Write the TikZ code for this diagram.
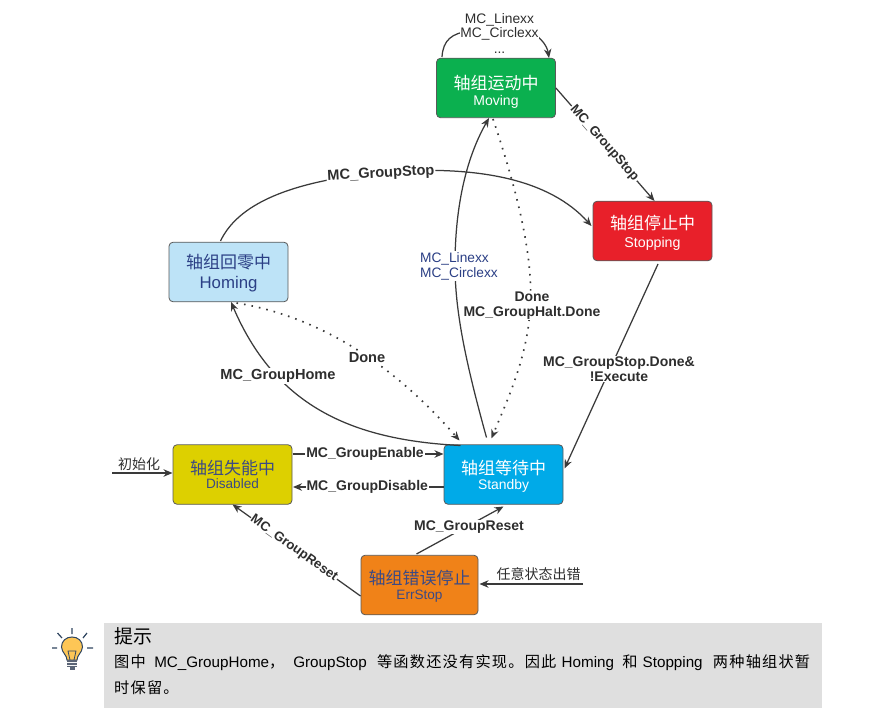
\documentclass[tikz,border=0pt]{standalone}
\usepackage{fontspec}
\setmainfont{Liberation Sans}
\newfontfamily\cjk{Noto Sans CJK SC}
\newfontfamily\cjkb[LetterSpace=8]{Noto Sans CJK SC}
\usetikzlibrary{arrows.meta}
\definecolor{linec}{HTML}{3A3A3A}
\definecolor{labc}{HTML}{2E2E2E}
\definecolor{darkblue}{HTML}{3B4A85}
\definecolor{navyl}{HTML}{2B3F85}
\definecolor{cgreen}{RGB}{11,176,79}
\definecolor{cred}{RGB}{232,32,42}
\definecolor{clblue}{RGB}{189,227,247}
\definecolor{cyellow}{RGB}{221,208,0}
\definecolor{cblue}{RGB}{0,170,232}
\definecolor{corange}{RGB}{240,130,24}
\definecolor{notebg}{RGB}{223,223,223}
\definecolor{bulbfill}{RGB}{253,198,86}
\definecolor{bulbline}{RGB}{47,69,96}
\definecolor{bulbbase}{RGB}{90,100,118}
% cjk text, latin text, latin size, line gap, strut height
\newcommand{\stext}[5]{\rule{0pt}{#5pt}{\cjk\fontsize{17}{19}\selectfont #1}\\[#4pt]{\fontsize{#3}{15}\selectfont #2}}
\tikzset{
  x=1pt,y=-1pt,
  state/.style={draw=#1!70!black,rounded corners=4pt,line width=0.8pt,minimum width=119pt,minimum height=59.5pt,inner sep=0pt,align=center},
  conn/.style={draw=linec,line width=1.25pt,-{Stealth[length=9pt,width=7.5pt]}},
  dots/.style={conn,line width=1.7pt,dash pattern=on 1.6pt off 6pt},
  lab/.style={fill=white,inner sep=1pt,font=\fontsize{14}{15}\selectfont\bfseries,text=labc,align=center},
  labw/.style={lab,font=\fontsize{14.6}{15}\selectfont\bfseries},
  labn/.style={lab,font=\fontsize{13.2}{15}\selectfont\bfseries},
  small/.style={inner sep=0pt,font=\cjk\fontsize{14}{15}\selectfont,text=labc},
}
\begin{document}
\begin{tikzpicture}
\useasboundingbox (0,0) rectangle (872,719);
% states
\node[state=gray,fill=cgreen,text=white] (moving) at (496,88) {\stext{轴组运动中}{Moving}{14}{4}{22}};
\node[state=gray,fill=cred,text=white] (stopping) at (652.5,231) {\stext{轴组停止中}{Stopping}{14.2}{6}{18}};
\node[state=gray,fill=clblue,text=navyl] (homing) at (228.5,272) {\stext{轴组回零中}{Homing}{16.8}{5}{17}};
\node[state=gray,fill=cyellow,text=darkblue] (disabled) at (232.5,474.5) {\stext{轴组失能中}{Disabled}{13.6}{2}{15}};
\node[state=gray,fill=cblue,text=white] (standby) at (503.5,474.5) {\stext{轴组等待中}{Standby}{13.9}{3}{18}};
\node[state=gray,minimum width=117pt,fill=corange,text=darkblue] (errstop) at (419.5,585) {\stext{轴组错误停止}{ErrStop}{13.6}{3}{17}};
% free ends
\coordinate (initS) at (112,473);
\coordinate (errS) at (583,584);
% self loop on Moving
\draw[conn] ([shift={(-54,-31)}]moving.center) .. controls (443,40) and (452,33) .. (470,31) -- (525,31) .. controls (538,33) and (547,45) .. ([shift={(53,-30)}]moving.center);
\node[lab,font=\fontsize{13.8}{17}\selectfont,inner sep=0pt] (loopl) at (499.5,34) {MC\_Linexx\\[-3pt]MC\_Circlexx\\[-1pt]...};
% Moving -> Stopping
\draw[conn] (moving.east) -- ([shift={(2,-30)}]stopping.center) node[labn,pos=.49,sloped] (l1) {MC\_GroupStop};
% Homing -> Stopping
\draw[conn] ([shift={(-8,-31)}]homing.center) .. controls (240,200) and (300,180) .. (385,172) .. controls (480,165) and (550,180) .. ([shift={(-61,-5)}]stopping.center);
\node[labw,rotate=3] (l2) at (381,174) {MC\_GroupStop};
% Standby -> Moving
\draw[conn] ([shift={(-17,-37)}]standby.center) .. controls (465,360) and (455,310) .. (455,265) .. controls (455,210) and (465,160) .. ([shift={(-7,30)}]moving.center);
% Moving -> Standby dotted
\draw[dots] ([shift={(-3,31)}]moving.center) .. controls (510,170) and (535,250) .. (530,310) .. controls (527,360) and (505,405) .. ([shift={(-12,-36)}]standby.center);
\node[lab,text=navyl,font=\fontsize{13.7}{15}\selectfont,align=left,inner sep=1pt] (l3) at (459,266) {MC\_Linexx\\MC\_Circlexx};
\node[lab] (l4) at (532,305.5) {Done\\MC\_GroupHalt.Done};
% Standby -> Homing
\draw[conn] ([shift={(-43,-29)}]standby.center) .. controls (350,440) and (275,405) .. ([shift={(2.5,30)}]homing.center);
\node[labw] (l5) at (278,376) {MC\_GroupHome};
% Homing -> Standby dotted
\draw[dots] ([shift={(8,31)}]homing.center) .. controls (310,315) and (385,355) .. ([shift={(-44,-34)}]standby.center);
\node[labw] (l6) at (367,358) {Done};
% Disabled <-> Standby
\draw[conn] ([shift={(60,-20.5)}]disabled.center) -- ([shift={(-60,-20.5)}]standby.center) node[lab,midway,xshift=-3pt] (l7) {MC\_GroupEnable};
\draw[conn] ([shift={(-60,12.5)}]standby.center) -- ([shift={(60.5,12.5)}]disabled.center) node[lab,midway,xshift=-1pt] (l8) {MC\_GroupDisable};
% initial
\draw[conn] (initS) -- ([shift={(-60,-1.5)}]disabled.center);
\node[small] (l9) at (139,464) {初始化};
% ErrStop -> Standby
\draw[conn] ([shift={(-3,-31)}]errstop.center) -- ([shift={(0,32)}]standby.center);
\node[lab] (l10) at (469,527) {MC\_GroupReset};
% ErrStop -> Disabled
\draw[conn] ([shift={(-59,11)}]errstop.center) -- ([shift={(0,30)}]disabled.center) node[labn,pos=.52,sloped] (l11) {MC\_GroupReset};
% error input
\draw[conn] (errS) -- ([shift={(60,-1)}]errstop.center);
\node[small] (l12) at (538.5,574) {任意状态出错};
% Stopping -> Standby
\draw[conn] ([shift={(5.5,33)}]stopping.center) -- ([shift={(61,-6)}]standby.center);
\node[lab] (l13) at (619,369) {MC\_GroupStop.Done\&\\!Execute};
% note box
\node[fill=notebg,minimum width=718pt,minimum height=85pt,inner sep=0pt,anchor=north west] (note) at (104,623) {};
\node[anchor=west,inner sep=0pt,font=\cjk\fontsize{19}{20}\selectfont,text=black] (notet) at (114,636) {提示};
\node[anchor=north west,inner sep=0pt,align=left,text=black,font=\fontsize{15.2}{26}\selectfont] (noteb) at (114,654) {{\cjkb 图中}\ \ MC\_GroupHome{\cjkb ，}\hspace{9pt}GroupStop\hspace{6pt} {\cjkb 等函数还没有实现。因此}\hspace{1pt} Homing\hspace{4pt} {\cjkb 和}\hspace{1pt} Stopping\hspace{6pt} {\cjkb 两种轴组状暂}\\{\cjkb 时保留。}};
% bulb icon
\draw[fill=bulbfill,draw=bulbline,line width=1pt] (67,660) .. controls (67,655) and (62,653) .. (61.5,647) .. controls (61.5,641) and (66,637) .. (72,637) .. controls (78,637) and (82.5,641) .. (82.5,647) .. controls (82,653) and (77,655) .. (77,660) -- cycle;
\draw[draw=bulbline,line width=.8pt] (70,660) -- (68,651) -- (76,651) -- (74,660);
\fill[bulbbase] (67,660) rectangle (77,667);
\draw[notebg!30!white,line width=.6pt] (67,662.5) -- (77,662.5) (67,665) -- (77,665);
\fill[bulbbase] (69.5,667) rectangle (74.5,670);
\draw[draw=bulbline,line width=1.2pt] (72,628) -- (72,634) (52,648) -- (57,648) (87,648) -- (93,648) (57.5,633) -- (62,638) (87,633) -- (83,638);
\end{tikzpicture}
\end{document}
